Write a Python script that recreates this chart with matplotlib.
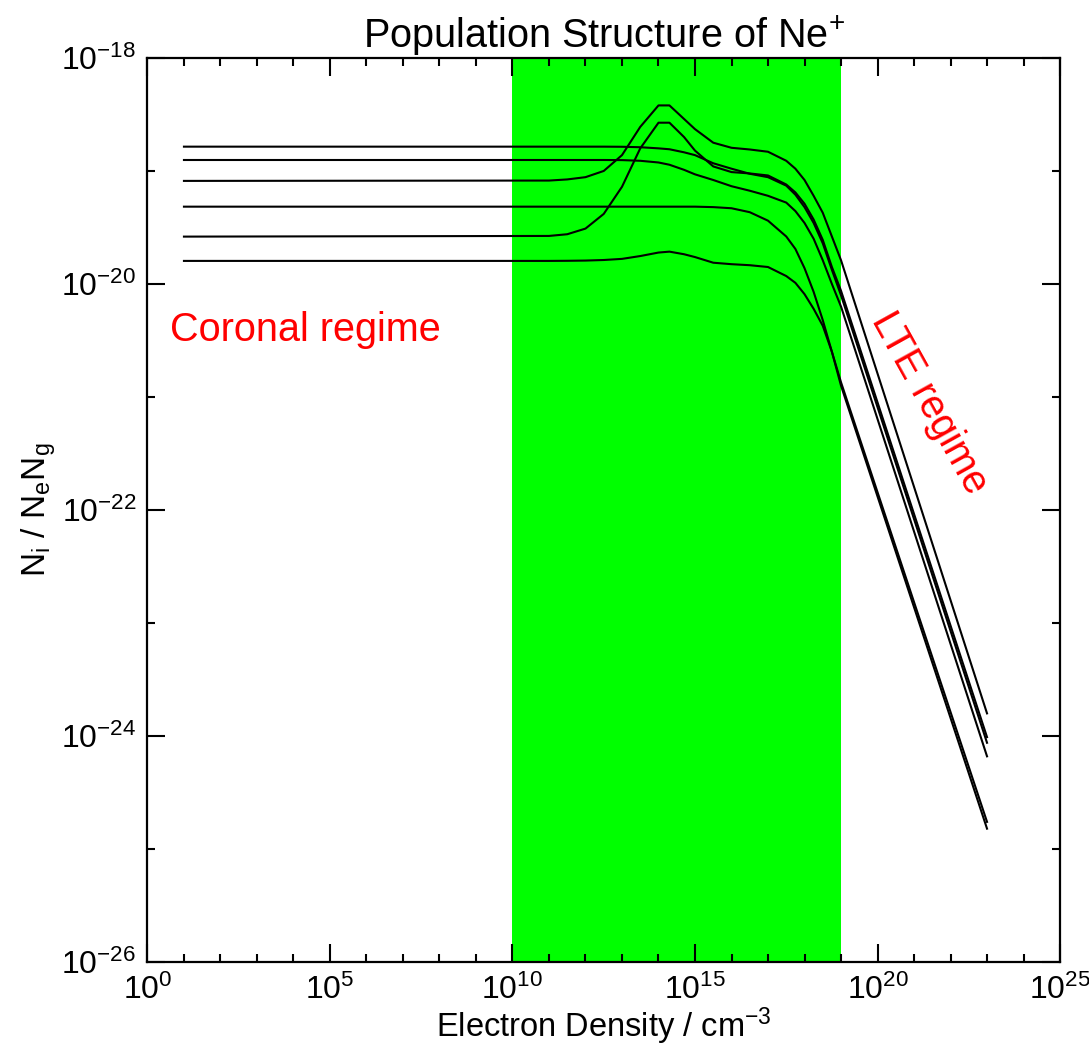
import numpy as np
import matplotlib
matplotlib.use("Agg")
import matplotlib.pyplot as plt
from matplotlib.ticker import FixedLocator, NullFormatter

plt.rcParams['font.family'] = ['Liberation Sans', 'DejaVu Sans']
plt.rcParams['mathtext.fontset'] = 'custom'
plt.rcParams['mathtext.rm'] = 'Liberation Sans'
plt.rcParams['mathtext.it'] = 'Liberation Sans'

# log10 of electron density (cm^-3) where the curves are sampled
log_ne = [1, 11, 11.5, 12, 12.5, 13, 13.5, 14, 14.3, 14.7, 15, 15.5,
          16, 16.5, 17, 17.5, 17.75, 18, 18.25, 18.5, 18.75, 19, 23]

# log10 of N_i / (N_e N_g) for six levels
level_a = [-18.785, -18.785, -18.785, -18.785, -18.785, -18.786, -18.79, -18.80,
           -18.808, -18.835, -18.86, -18.932, -18.98, -19.025, -19.055, -19.13,
           -19.21, -19.32, -19.46, -19.64, -19.875, -20.10, -24.06]
level_b = [-18.903, -18.903, -18.903, -18.903, -18.903, -18.904, -18.91, -18.925,
           -18.945, -18.99, -19.03, -19.08, -19.135, -19.175, -19.22, -19.28,
           -19.355, -19.46, -19.60, -19.79, -20.0, -20.20, -24.18]
level_c = [-19.088, -19.085, -19.075, -19.055, -19.00, -18.86, -18.61, -18.42,
           -18.42, -18.54, -18.63, -18.75, -18.795, -18.81, -18.83, -18.91,
           -18.98, -19.08, -19.22, -19.37, -19.58, -19.79, -23.80]
level_d = [-19.316, -19.316, -19.316, -19.316, -19.316, -19.316, -19.316, -19.316,
           -19.316, -19.316, -19.316, -19.32, -19.33, -19.365, -19.44, -19.58,
           -19.69, -19.86, -20.07, -20.32, -20.60, -20.87, -24.76]
level_e = [-19.581, -19.575, -19.56, -19.51, -19.38, -19.14, -18.80, -18.573,
           -18.573, -18.70, -18.82, -18.96, -19.01, -19.022, -19.04, -19.12,
           -19.19, -19.29, -19.43, -19.61, -19.85, -20.06, -24.01]
level_f = [-19.796, -19.796, -19.795, -19.793, -19.788, -19.778, -19.753, -19.722,
           -19.714, -19.737, -19.762, -19.812, -19.825, -19.834, -19.85, -19.93,
           -19.99, -20.09, -20.22, -20.37, -20.60, -20.90, -24.82]

levels = [level_a, level_b, level_c, level_d, level_e, level_f]

# intermediate (collisional-radiative) density band
band_lo, band_hi = 1e10, 1e19

xtick_exp = [0, 5, 10, 15, 20, 25]
ytick_exp = [-26, -24, -22, -20, -18]

fig = plt.figure(figsize=(10.89, 10.46), dpi=100)
ax = fig.add_axes([0.1354, 0.0803, 0.8380, 0.8643])

ax.axvspan(band_lo, band_hi, color='#00ff00', zorder=0, lw=0)

ne = 10.0 ** np.array(log_ne)
for lev in levels:
    ax.plot(ne, 10.0 ** np.array(lev), color='black', lw=1.5, zorder=2)

ax.set_xscale('log')
ax.set_yscale('log')
ax.set_xlim(1e0, 1e25)
ax.set_ylim(1e-26, 1e-18)

ax.xaxis.set_major_locator(FixedLocator([10.0 ** e for e in xtick_exp]))
ax.xaxis.set_minor_locator(FixedLocator([10.0 ** e for e in range(0, 26)]))
ax.set_xticklabels(['$10^{%d}$' % e for e in xtick_exp])
ax.xaxis.set_minor_formatter(NullFormatter())

ax.yaxis.set_major_locator(FixedLocator([10.0 ** e for e in ytick_exp]))
ax.yaxis.set_minor_locator(FixedLocator([10.0 ** e for e in range(-26, -17)]))
ax.set_yticklabels(['$10^{%d}$' % e for e in ytick_exp])
ax.yaxis.set_minor_formatter(NullFormatter())

ax.tick_params(which='both', direction='in', top=True, right=True,
               labelsize=23, width=1.5, color='black')
ax.tick_params(which='major', length=13)
ax.tick_params(which='minor', length=6)
ax.tick_params(axis='x', pad=9)
ax.tick_params(axis='y', pad=8)
for s in ax.spines.values():
    s.set_linewidth(1.6)

ax.set_title('Population Structure of Ne$^{+}$', fontsize=28.5, pad=6)
ax.set_xlabel('Electron Density / cm$^{-3}$', fontsize=23.5, labelpad=0)
ax.set_ylabel(r'N$_\mathrm{i}$ / N$_\mathrm{e}$N$_\mathrm{g}$', fontsize=24, labelpad=2)

ax.text(0.0247, 0.699, 'Coronal regime', transform=ax.transAxes, color='red',
        fontsize=28.5, ha='left', va='center')
ax.text(0.8575, 0.618, 'LTE regime', transform=ax.transAxes, color='red',
        fontsize=28.5, ha='center', va='center', rotation=-61,
        rotation_mode='anchor')

fig.savefig('out.png', dpi=100)
